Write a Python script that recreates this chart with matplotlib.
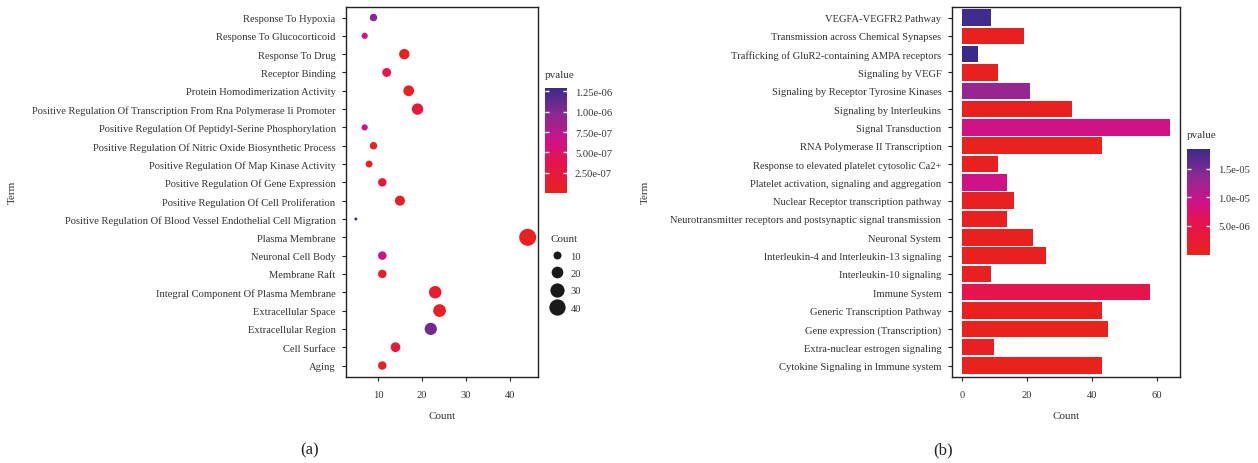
import numpy as np
import matplotlib
matplotlib.use("Agg")
import matplotlib.pyplot as plt
from matplotlib.colors import LinearSegmentedColormap, Normalize
from matplotlib.lines import Line2D

plt.rcParams['font.family'] = ['Liberation Serif', 'DejaVu Serif']

# panel (a): GO terms, top to bottom
go_terms = [
    "Response To Hypoxia", "Response To Glucocorticoid", "Response To Drug",
    "Receptor Binding", "Protein Homodimerization Activity",
    "Positive Regulation Of Transcription From Rna Polymerase Ii Promoter",
    "Positive Regulation Of Peptidyl-Serine Phosphorylation",
    "Positive Regulation Of Nitric Oxide Biosynthetic Process",
    "Positive Regulation Of Map Kinase Activity",
    "Positive Regulation Of Gene Expression",
    "Positive Regulation Of Cell Proliferation",
    "Positive Regulation Of Blood Vessel Endothelial Cell Migration",
    "Plasma Membrane", "Neuronal Cell Body", "Membrane Raft",
    "Integral Component Of Plasma Membrane", "Extracellular Space",
    "Extracellular Region", "Cell Surface", "Aging",
]
go_count = [9, 7, 16, 12, 17, 19, 7, 9, 8, 11, 15, 5, 44, 11, 11, 23, 24, 22, 14, 11]
go_pvalue = [1.0e-06, 6.2e-07, 5e-08, 3.2e-07, 5e-08, 2.6e-07, 6.6e-07, 4e-08, 3e-08,
             2.6e-07, 6e-08, 1.29e-06, 5e-08, 6.5e-07, 5e-08, 1.6e-07, 6e-08,
             1.05e-06, 2.8e-07, 4e-08]

# panel (b): pathways, top to bottom
pw_terms = [
    "VEGFA-VEGFR2 Pathway", "Transmission across Chemical Synapses",
    "Trafficking of GluR2-containing AMPA receptors", "Signaling by VEGF",
    "Signaling by Receptor Tyrosine Kinases", "Signaling by lnterleukins",
    "Signal Transduction", "RNA Polymerase II Transcription",
    "Response to elevated platelet cytosolic Ca2+",
    "Platelet activation, signaling and aggregation",
    "Nuclear Receptor transcription pathway",
    "Neurotransmitter receptors and postsynaptic signal transmission",
    "Neuronal System", "lnterleukin-4 and lnterleukin-13 signaling",
    "Interleukin-10 signaling", "Immune System", "Generic Transcription Pathway",
    "Gene expression (Transcription)", "Extra-nuclear estrogen signaling",
    "Cytokine Signaling in lmmune system",
]
pw_count = [9, 19, 5, 11, 21, 34, 64, 43, 11, 14, 16, 14, 22, 26, 9, 58, 43, 45, 10, 43]
pw_pvalue = [1.8e-05, 5e-07, 1.84e-05, 4e-07, 1.3e-05, 3e-07, 9e-06, 2e-07, 5e-07,
             9.2e-06, 6e-07, 5e-07, 4e-07, 3e-07, 6e-07, 5.2e-06, 3e-07, 2e-07,
             6e-07, 2e-07]

cmap = LinearSegmentedColormap.from_list(
    "pv", [(0.0, "#e8221c"), (0.3, "#e6134f"), (0.5, "#cf1288"),
           (0.75, "#8b2a92"), (1.0, "#3a2a8a")])

FS = 7.6
TXT = "#333333"

fig = plt.figure(figsize=(12.58, 4.64), dpi=100)
ax1 = fig.add_axes([0.2750, 0.1864, 0.1527, 0.7974])
ax2 = fig.add_axes([0.7565, 0.1864, 0.1815, 0.7974])

n = len(go_terms)
ypos = np.arange(n)[::-1]


def diam_pt(c):
    # ggplot-like area scaling, diameter in px -> points
    c = np.asarray(c, dtype=float)
    px = 3 + 14 * np.sqrt((c - 5) / 39.0)
    return px * 0.72


norm_a = Normalize(0, 1.29e-06)
ax1.scatter(go_count, ypos, s=diam_pt(go_count) ** 2, c=go_pvalue, cmap=cmap,
            norm=norm_a, linewidths=0, zorder=3)
ax1.set_yticks(ypos)
ax1.set_yticklabels(go_terms)
ax1.set_ylim(-0.6, n - 0.4)
ax1.set_xlim(2.75, 46.35)
ax1.set_xticks([10, 20, 30, 40])

norm_b = Normalize(0, 1.84e-05)
ax2.barh(ypos, pw_count, height=0.9, color=cmap(norm_b(np.array(pw_pvalue))), zorder=3)
ax2.set_yticks(ypos)
ax2.set_yticklabels(pw_terms)
ax2.set_ylim(-0.6, n - 0.4)
ax2.set_xlim(-3.2, 67.2)
ax2.set_xticks([0, 20, 40, 60])

for ax in (ax1, ax2):
    for sp in ax.spines.values():
        sp.set_linewidth(1.0)
        sp.set_color("#222222")
    ax.tick_params(axis="both", length=3, width=0.8, labelsize=FS, colors="#222222",
                   labelcolor=TXT)
    ax.tick_params(axis="y", pad=4.5)
    ax.tick_params(axis="x", pad=7)
    ax.set_xlabel("Count", fontsize=FS + 0.4, color=TXT, labelpad=8)

fig.text(12 / 1258, 1 - 192 / 464, "Term", rotation=90, fontsize=FS + 0.4, color=TXT,
         ha="center", va="center")
fig.text(645 / 1258, 1 - 192 / 464, "Term", rotation=90, fontsize=FS + 0.4, color=TXT,
         ha="center", va="center")

# colorbars
cax1 = fig.add_axes([0.4332, 0.5813, 0.01725, 0.2269])
cb1 = fig.colorbar(plt.cm.ScalarMappable(norm=norm_a, cmap=cmap), cax=cax1)
cb1.set_ticks([2.5e-07, 5.0e-07, 7.5e-07, 1.0e-06, 1.25e-06])
cb1.set_ticklabels(["2.50e-07", "5.00e-07", "7.50e-07", "1.00e-06", "1.25e-06"])
cax2 = fig.add_axes([0.9436, 0.4489, 0.0183, 0.2278])
cb2 = fig.colorbar(plt.cm.ScalarMappable(norm=norm_b, cmap=cmap), cax=cax2)
cb2.set_ticks([5e-06, 1e-05, 1.5e-05])
cb2.set_ticklabels(["5.0e-06", "1.0e-05", "1.5e-05"])
for cb in (cb1, cb2):
    cb.outline.set_visible(False)
    cb.ax.tick_params(direction="in", length=3, width=1, colors="white", labelsize=FS,
                      labelcolor=TXT, left=True, right=True, pad=6)
fig.text(545 / 1258, 1 - 75 / 464, "pvalue", fontsize=FS + 0.4, color=TXT, va="center")
fig.text(1187 / 1258, 1 - 136 / 464, "pvalue", fontsize=FS + 0.4, color=TXT, va="center")

# size legend
size_levels = [10, 20, 30, 40]
handles = [Line2D([], [], ls="", marker="o", color="#1a1a1a", markeredgewidth=0,
                  markersize=diam_pt(v)) for v in size_levels]
leg = fig.legend(handles, [str(v) for v in size_levels], title="Count",
                 loc="upper left", bbox_to_anchor=(543 / 1258, 1 - 228 / 464),
                 frameon=False, fontsize=FS, title_fontsize=FS + 0.4, labelspacing=0.75,
                 handletextpad=0.7, handlelength=1.2, borderpad=0.2)
leg._legend_box.align = "left"
for t in leg.get_texts():
    t.set_color(TXT)
leg.get_title().set_color(TXT)

fig.text(310 / 1258, 1 - 450 / 464, "(a)", fontsize=12, ha="center", va="center",
         color="#222222")
fig.text(943 / 1258, 1 - 450 / 464, "(b)", fontsize=12, ha="center", va="center",
         color="#222222")

fig.savefig("out.png", dpi=100)
